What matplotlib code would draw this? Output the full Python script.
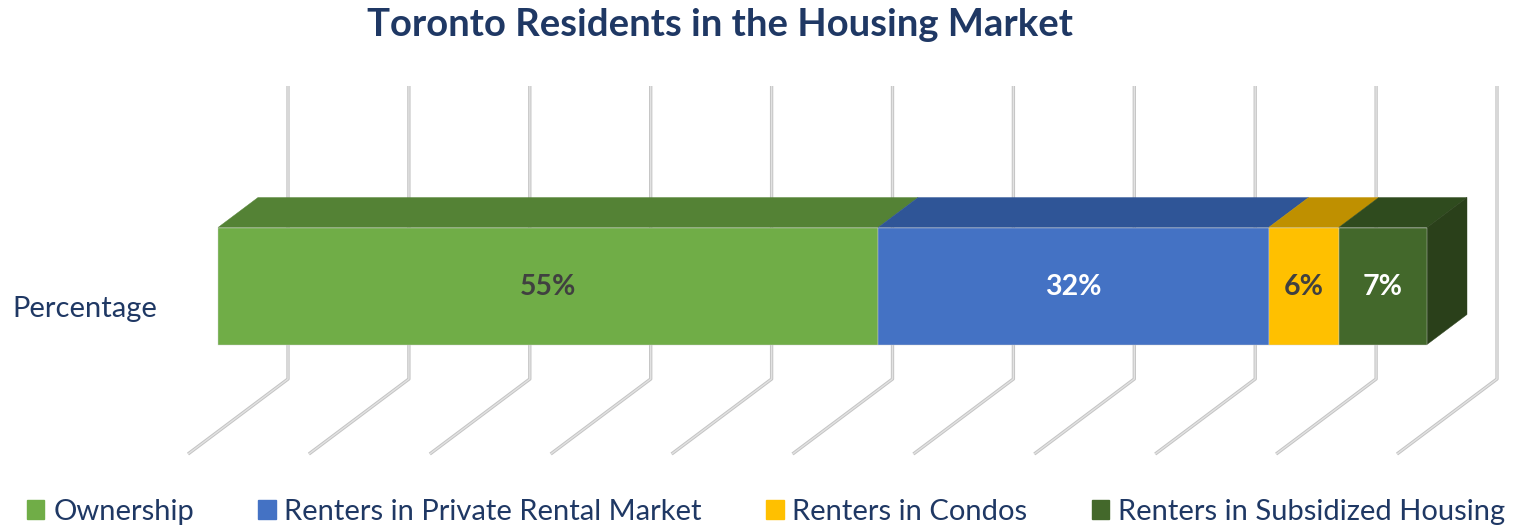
import matplotlib
matplotlib.use("Agg")
import matplotlib.pyplot as plt
from matplotlib.patches import Polygon, Patch
import numpy as np

# ---- data ----
categories = ["Percentage"]
series_names = ["Ownership", "Renters in Private Rental Market",
                "Renters in Condos", "Renters in Subsidized Housing"]
values = [54.6, 32.3, 5.8, 7.3]
labels = ["55%", "32%", "6%", "7%"]
x_ticks = [0, 10, 20, 30, 40, 50, 60, 70, 80, 90, 100]

# ---- style ----
front_colors = ["#70AD47", "#4472C4", "#FFC000", "#43682B"]
top_colors = ["#548235", "#2F5597", "#BF9000", "#2F4B1E"]
side_color = "#2A401A"
label_colors = ["#404040", "white", "#404040", "white"]
navy = "#1F3864"
font = "Lato"

W, H = 1516, 527
fig = plt.figure(figsize=(W / 100, H / 100), dpi=100)
ax = fig.add_axes([0, 0, 1, 1])
X0, S = 218.0, 12.09          # pixel origin and pixels per percent of the bar's front plane
ax.set_xlim((0 - X0) / S, (W - X0) / S)
ax.set_ylim(H, 0)
ax.axis("off")

# 3D offsets (in data units)
DX = 40 / S
DY = -30
BACK = 70 / S
FRONT = -30 / S
wall_top, wall_bot, floor_front = 86, 379, 454

# gridlines (back wall + floor)
for t in x_ticks:
    xs = [t + BACK, t + BACK, t + FRONT]
    ys = [wall_top, wall_bot, floor_front]
    ax.plot(xs, ys, color="#c4c4c4", lw=2.4, solid_capstyle="butt", zorder=1)
    ax.plot(xs, ys, color="#e2e2e2", lw=1.0, solid_capstyle="butt", zorder=1.1)

# bars
yc, bh = 286, 117
top = yc - bh / 2
bot = yc + bh / 2
lefts = np.concatenate([[0], np.cumsum(values)[:-1]])
ax.barh([yc] * len(values), values, left=lefts, height=bh,
        color=front_colors, edgecolor="#d0d0d0", linewidth=0.3, zorder=3)
for l, v, c in zip(lefts, values, top_colors):
    poly = Polygon([(l, top), (l + v, top), (l + v + DX, top + DY), (l + DX, top + DY)],
                   closed=True, facecolor=c, edgecolor=c, linewidth=0.3, zorder=2.5)
    ax.add_patch(poly)
end = lefts[-1] + values[-1]
ax.add_patch(Polygon([(end, top), (end, bot), (end + DX, bot + DY), (end + DX, top + DY)],
                     closed=True, facecolor=side_color, edgecolor=side_color,
                     linewidth=0.3, zorder=2.5))

for l, v, lab, lc in zip(lefts, values, labels, label_colors):
    ax.text(l + v / 2, yc + 1, lab, ha="center", va="center", fontsize=20.5,
            fontweight="bold", color=lc, family=font, zorder=5)

# category label
ax.text((12 - X0) / S, 309, categories[0], ha="left", va="center", fontsize=21,
        color=navy, family=font)

# title
fig.text(720 / W, 1 - 25 / H, "Toronto Residents in the Housing Market",
         ha="center", va="center", fontsize=27.5, fontweight="bold", color=navy, family=font)

# legend
handles = [Patch(facecolor=c, edgecolor=c) for c in front_colors]
leg = fig.legend(handles, series_names, loc="center", bbox_to_anchor=(766 / W, 1 - 512 / H),
                 ncol=4, frameon=False, handlelength=0.6, handleheight=0.6,
                 handletextpad=0.3, columnspacing=2.2,
                 prop={"family": font, "size": 21})
for t in leg.get_texts():
    t.set_color(navy)

fig.savefig("out.png", dpi=100)
